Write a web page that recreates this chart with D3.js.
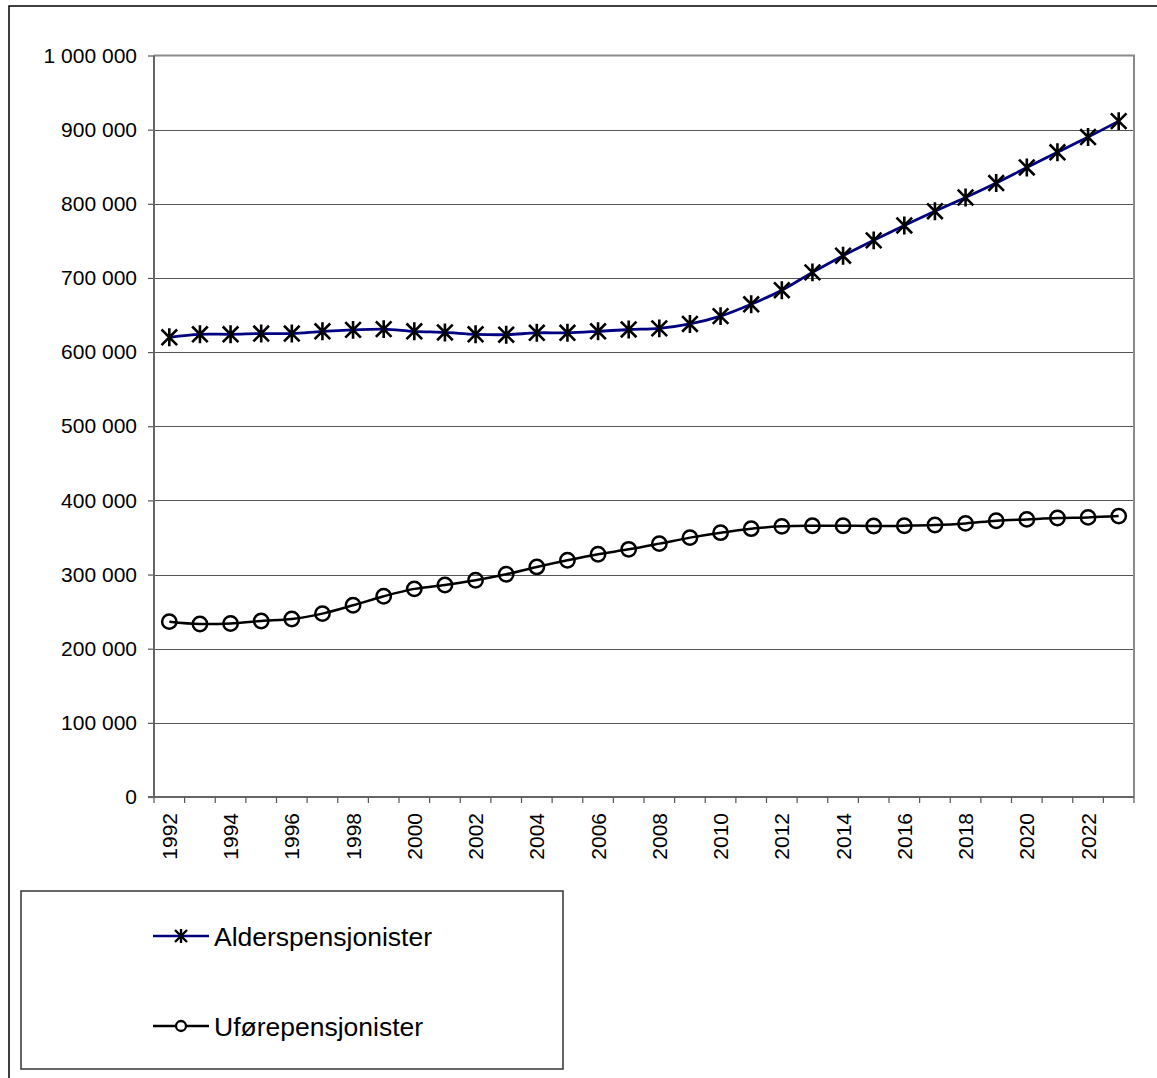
<!DOCTYPE html>
<html>
<head>
<meta charset="utf-8">
<script src="https://cdn.jsdelivr.net/npm/d3@7"></script>
<style>
  html, body { margin: 0; padding: 0; background: #fff; }
  svg { display: block; font-family: "Liberation Sans", Arial, sans-serif; }
</style>
</head>
<body>
<svg id="chart" width="1157" height="1078"></svg>
<script>
// ---- data ----
const years = [1992,1993,1994,1995,1996,1997,1998,1999,2000,2001,2002,2003,2004,2005,2006,2007,
               2008,2009,2010,2011,2012,2013,2014,2015,2016,2017,2018,2019,2020,2021,2022,2023];
const alderspensjonister = [620000,624000,624000,625000,625000,628000,630000,631000,628000,626500,624000,623500,
                            626000,626000,628000,630500,632000,638000,648500,664500,683500,707500,730000,750700,
                            770800,790000,808500,828000,849000,869500,890000,911500];
const uforepensjonister = [236500,233300,234000,237400,240000,247300,258500,270700,280700,286000,292400,300400,
                           310300,319300,327400,334000,341700,349800,356500,361900,365000,365900,365900,365500,
                           365900,366800,369000,372600,374400,376200,377100,378800];
const yTicks = [0,100000,200000,300000,400000,500000,600000,700000,800000,900000,1000000];
const xLabelYears = years.filter(y => y % 2 === 0);
const seriesNames = ["Alderspensjonister", "Uførepensjonister"];

// ---- setup ----
const svg = d3.select("#chart");
const plot = { left: 154, right: 1134, top: 55.5, bottom: 797 };

const x = d3.scaleBand().domain(years).range([plot.left, plot.right]).padding(0);
const y = d3.scaleLinear().domain([0, 1000000]).range([plot.bottom, plot.top]);
const cx = d => x(d) + x.bandwidth() / 2;

const locale = d3.formatLocale({ decimal: ",", thousands: " ", grouping: [3], currency: ["", ""] });
const fmt = locale.format(",d");

// outer frame
svg.append("rect").attr("x", 9).attr("y", 6).attr("width", 1300).attr("height", 1300)
  .attr("fill", "none").attr("stroke", "#000").attr("stroke-width", 1.5);

// gridlines
svg.append("g").selectAll("line").data(yTicks.slice(1, -1)).join("line")
  .attr("x1", plot.left).attr("x2", plot.right)
  .attr("y1", d => Math.round(y(d)) + 0.5).attr("y2", d => Math.round(y(d)) + 0.5)
  .attr("stroke", "#555").attr("stroke-width", 1.2);

// plot border top/right
svg.append("path")
  .attr("d", `M${plot.left},${plot.top}H${plot.right}V${plot.bottom}`)
  .attr("fill", "none").attr("stroke", "#8a8a8a").attr("stroke-width", 2);

// y axis
const yAxis = svg.append("g").attr("transform", `translate(${plot.left},0)`)
  .call(d3.axisLeft(y).tickValues(yTicks).tickFormat(fmt).tickSize(6).tickPadding(11));
yAxis.select(".domain").remove();
yAxis.selectAll(".tick line").attr("stroke", "#555").attr("stroke-width", 1.2);
yAxis.selectAll(".tick text").attr("font-size", 21).attr("fill", "#000")
  .attr("font-family", "'Liberation Sans', Arial, sans-serif");

// axis lines
svg.append("line").attr("x1", plot.left).attr("x2", plot.left).attr("y1", plot.top).attr("y2", plot.bottom)
  .attr("stroke", "#666").attr("stroke-width", 2);
svg.append("line").attr("x1", plot.left - 6).attr("x2", plot.right).attr("y1", plot.bottom).attr("y2", plot.bottom)
  .attr("stroke", "#666").attr("stroke-width", 2);

// x ticks at band boundaries
const boundaries = years.map(d => x(d)).concat([x(years[years.length - 1]) + x.bandwidth()]);
svg.append("g").selectAll("line").data(boundaries).join("line")
  .attr("x1", d => d).attr("x2", d => d).attr("y1", plot.bottom).attr("y2", plot.bottom + 6)
  .attr("stroke", "#555").attr("stroke-width", 1.2);

// x labels
svg.append("g").selectAll("text").data(xLabelYears).join("text")
  .attr("transform", d => `translate(${cx(d)},813) rotate(-90)`)
  .attr("text-anchor", "end").attr("dy", "0.36em")
  .attr("font-size", 21).attr("fill", "#000")
  .text(d => d);

// lines
const line = d3.line().x((d, i) => cx(years[i])).y(d => y(d)).curve(d3.curveCatmullRom.alpha(0.5));

svg.append("path").datum(uforepensjonister).attr("d", line)
  .attr("fill", "none").attr("stroke", "#000").attr("stroke-width", 2.5);
svg.append("path").datum(alderspensjonister).attr("d", line)
  .attr("fill", "none").attr("stroke", "#000080").attr("stroke-width", 2.8);

// markers
function star(g, px, py, s, w) {
  g.append("path")
    .attr("d", `M${px - s},${py - s}L${px + s},${py + s}M${px - s},${py + s}L${px + s},${py - s}M${px},${py - s * 1.15}L${px},${py + s * 1.15}`)
    .attr("stroke", "#000").attr("stroke-width", w).attr("fill", "none");
}
const gStars = svg.append("g");
alderspensjonister.forEach((v, i) => star(gStars, cx(years[i]), y(v), 7.8, 2.6));

svg.append("g").selectAll("circle").data(uforepensjonister).join("circle")
  .attr("cx", (d, i) => cx(years[i])).attr("cy", d => y(d)).attr("r", 7.2)
  .attr("fill", "none").attr("stroke", "#000").attr("stroke-width", 2.5);

// legend
const lg = svg.append("g");
lg.append("rect").attr("x", 21).attr("y", 891).attr("width", 542).attr("height", 178)
  .attr("fill", "#fff").attr("stroke", "#333").attr("stroke-width", 1.5);
const rows = [936, 1026];
// Alder
lg.append("line").attr("x1", 153).attr("x2", 209).attr("y1", rows[0]).attr("y2", rows[0])
  .attr("stroke", "#000080").attr("stroke-width", 2.6);
star(lg, 181, rows[0], 6, 2.4);
// Ufør
lg.append("line").attr("x1", 153).attr("x2", 209).attr("y1", rows[1]).attr("y2", rows[1])
  .attr("stroke", "#000").attr("stroke-width", 2.5);
lg.append("circle").attr("cx", 181).attr("cy", rows[1]).attr("r", 5)
  .attr("fill", "#fff").attr("stroke", "#000").attr("stroke-width", 2.3);
seriesNames.forEach((n, i) => {
  lg.append("text").attr("x", 214).attr("y", rows[i]).attr("dy", "0.36em")
    .attr("font-size", 26.5).attr("fill", "#000").text(n);
});
</script>
</body>
</html>
